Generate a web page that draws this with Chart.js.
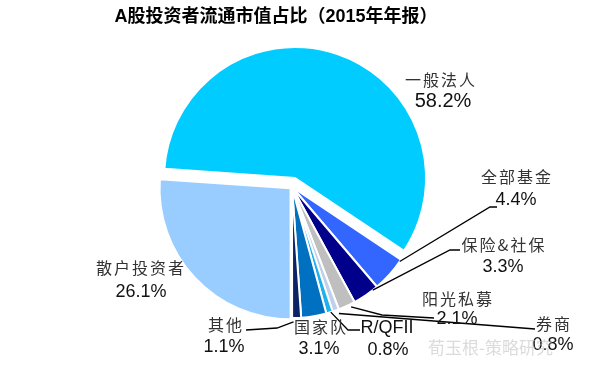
<!DOCTYPE html>
<html lang="zh">
<head>
<meta charset="utf-8">
<title>A股投资者流通市值占比</title>
<script src="https://cdn.jsdelivr.net/npm/chart.js@4.4.1/dist/chart.umd.min.js"></script>
<style>
    html, body { margin: 0; padding: 0; background: #fff; }
    #chartShare { display: block; }
</style>
</head>
<body>
<canvas id="chartShare" width="600" height="365"></canvas>
<script>
// -------------------------------------------------------
// Data
// -------------------------------------------------------
const CATEGORIES = ['一般法人', '全部基金', '保险&社保', '阳光私募', '券商', 'R/QFII', '国家队', '其他', '散户投资者'];
const SHARES     = [58.2, 4.4, 3.3, 2.1, 0.8, 0.8, 3.1, 1.1, 26.1];
const COLORS     = ['#00CCFF', '#3366FF', '#00008B', '#BFBFBF', '#C0CFEA', '#1FB0EE', '#0070C0', '#0A2466', '#99CCFF'];

const TITLE = 'A股投资者流通市值占比（2015年年报）';

// -------------------------------------------------------
// Layout (positions only, not data)
// -------------------------------------------------------
const EXPLODE = [9.5, 0, 0, 0, 0, 0, 0, 0, 2];

// [name x, name y, value x, value y, value font size] – text centres
const LABEL_POS = [
    [440, 80, 443, 101, 20],
    [516, 177, 516, 200, 18],
    [503, 245, 503, 267, 18],
    [457, 299, 457, 319, 18],
    [553, 324, 553, 345, 18],
    [387, 328, 388, 350, 18],
    [320, 327, 319, 349, 18],
    [225, 325, 224, 347, 18],
    [140, 268, 141, 292, 18]
];

// leader lines: slice index, position along slice (t), radius fraction, then bends
const LEADERS = [
    { index: 1, t: 0.06, rf: 1.0,  path: [[490, 207], [497, 207]] },
    { index: 2, t: 0.2,  rf: 1.0,  path: [[450, 250], [460, 250]] },
    { index: 3, t: 0.3,  rf: 1.02, path: [[382, 315], [434, 318]] },
    { index: 4, t: 0.2,  rf: 1.03, path: [[535, 329]] },
    { index: 5, t: 0.3,  rf: 1.0,  path: [[348, 330], [360, 330]] },
    { index: 7, t: 0.85, rf: 1.03, path: [[277, 328], [246, 330]] }
];

const FONT_CJK = "'Noto Sans CJK SC', sans-serif";
const FONT_NUM = "'Liberation Sans', Arial, sans-serif";

// -------------------------------------------------------
// Pull exploded slices out along their bisector
// -------------------------------------------------------
const explodePlugin = {
    id: 'explode',
    afterDatasetUpdate(chart, args) {
        args.meta.data.forEach((arc, i) => {
            const d = EXPLODE[i] || 0;
            if (!d) return;
            const mid = (arc.startAngle + arc.endAngle) / 2;
            arc.x += Math.cos(mid) * d;
            arc.y += Math.sin(mid) * d;
        });
    }
};

// -------------------------------------------------------
// Title, leader lines and data labels
// -------------------------------------------------------
const labelPlugin = {
    id: 'pieLabels',
    afterDraw(chart) {
        const ctx = chart.ctx;
        const arcs = chart.getDatasetMeta(0).data;
        ctx.save();

        ctx.fillStyle = '#000';
        ctx.textAlign = 'center';
        ctx.textBaseline = 'middle';
        ctx.font = "bold 18px 'Liberation Sans', 'Noto Sans CJK SC', sans-serif";
        ctx.fillText(TITLE, 276, 17);

        ctx.strokeStyle = '#000';
        ctx.lineWidth = 1.3;
        LEADERS.forEach(l => {
            const arc = arcs[l.index];
            const a = arc.startAngle + (arc.endAngle - arc.startAngle) * l.t;
            const r = arc.outerRadius * l.rf;
            ctx.beginPath();
            ctx.moveTo(arc.x + Math.cos(a) * r, arc.y + Math.sin(a) * r);
            l.path.forEach(p => ctx.lineTo(p[0], p[1]));
            ctx.stroke();
        });

        CATEGORIES.forEach((name, i) => {
            const [nx, ny, vx, vy, vs] = LABEL_POS[i];
            const latin = /^[A-Za-z\/]+$/.test(name);
            ctx.fillStyle = latin ? '#111' : '#333';
            ctx.font = latin ? '18px ' + FONT_NUM : '16px ' + FONT_CJK;
            ctx.letterSpacing = latin ? '0px' : '2px';
            ctx.fillText(name, latin ? nx : nx + 1, ny);
            ctx.letterSpacing = '0px';
            ctx.fillStyle = '#111';
            ctx.font = vs + 'px ' + FONT_NUM;
            ctx.fillText(SHARES[i].toFixed(1) + '%', vx, vy);
        });

        // faint watermark seen in the source image
        ctx.fillStyle = 'rgba(190,190,190,0.55)';
        ctx.font = '17px ' + FONT_CJK;
        ctx.textAlign = 'left';
        ctx.fillText('荀玉根-策略研究', 428, 348);

        ctx.restore();
    }
};

const chart = new Chart(document.getElementById('chartShare').getContext('2d'), {
    type: 'pie',
    data: {
        labels: CATEGORIES,
        datasets: [{
            data: SHARES,
            backgroundColor: COLORS,
            borderColor: '#fff',
            borderWidth: 2,
            radius: 131
        }]
    },
    options: {
        responsive: false,
        animation: false,
        events: [],
        rotation: -86,
        layout: { padding: { left: 152, right: 168, top: 47, bottom: 38 } },
        plugins: {
            legend: { display: false },
            tooltip: { enabled: false },
            title: { display: false }
        }
    },
    plugins: [explodePlugin, labelPlugin]
});
</script>
</body>
</html>
